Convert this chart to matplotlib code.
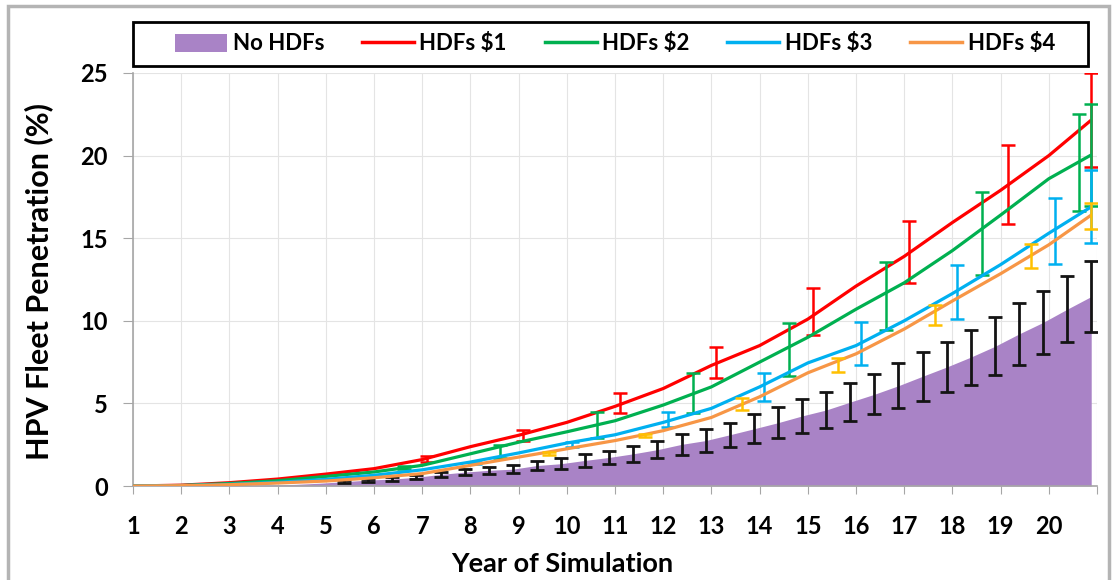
import matplotlib

matplotlib.use("Agg")
import matplotlib.pyplot as plt  # noqa: E402
from matplotlib.lines import Line2D  # noqa: E402
from matplotlib.patches import Patch, Rectangle  # noqa: E402

plt.rcParams["font.family"] = ["Lato", "DejaVu Sans"]
plt.rcParams["font.weight"] = "bold"

# --- data ------------------------------------------------------------------
years = [1, 2, 3, 4, 5, 6, 7, 8, 9, 10, 11, 12, 13, 14, 15, 16, 17, 18, 19, 20, 20.88]
hdf1 = [0, 0.05, 0.2, 0.42, 0.72, 1.05, 1.6, 2.38, 3.07, 3.85, 4.82, 5.9, 7.3, 8.5,
        10.1, 12.1, 13.9, 15.95, 17.9, 20.0, 22.15]
hdf2 = [0, 0.03, 0.15, 0.32, 0.58, 0.85, 1.25, 1.95, 2.65, 3.28, 3.95, 4.9, 6.0, 7.5,
        9.0, 10.7, 12.3, 14.25, 16.4, 18.6, 20.04]
hdf3 = [0, 0.02, 0.1, 0.22, 0.4, 0.65, 0.98, 1.45, 2.0, 2.6, 3.1, 3.85, 4.7, 6.0,
        7.45, 8.5, 10.0, 11.65, 13.4, 15.3, 16.9]
hdf4 = [0, 0.02, 0.08, 0.18, 0.3, 0.5, 0.75, 1.25, 1.75, 2.25, 2.75, 3.35, 4.15, 5.4,
        6.85, 8.0, 9.5, 11.2, 12.85, 14.6, 16.4]

# No HDFs: mean (purple area) and +/- spread (black bars)
base_x = [1.0, 2.88, 3.88, 4.38, 4.88, 5.38, 5.88, 6.38, 6.88, 7.38, 7.88, 8.38, 8.88,
          9.38, 9.88, 10.38, 10.88, 11.38, 11.88, 12.38, 12.88, 13.38, 13.88, 14.38,
          14.88, 15.38, 15.88, 16.38, 16.88, 17.38, 17.88, 18.38, 18.88, 19.38,
          19.88, 20.38, 20.88]
base_mean = [0, 0.02, 0.06, 0.1, 0.17, 0.26, 0.36, 0.42, 0.53, 0.70, 0.84, 0.95, 1.02,
             1.24, 1.35, 1.55, 1.73, 1.95, 2.20, 2.52, 2.75, 3.10, 3.46, 3.83, 4.24,
             4.60, 5.08, 5.55, 6.07, 6.64, 7.20, 7.80, 8.45, 9.20, 9.90, 10.70, 11.47]
base_err = [0, 0, 0, 0, 0, 0.08, 0.09, 0.1, 0.12, 0.14, 0.17, 0.22, 0.25, 0.27, 0.33,
            0.38, 0.40, 0.48, 0.52, 0.64, 0.68, 0.72, 0.88, 0.93, 1.01, 1.11, 1.13,
            1.22, 1.36, 1.47, 1.52, 1.66, 1.75, 1.87, 1.92, 2.0, 2.15]

# error bars of the HDF runs: position, low, high
hdf1_bx = [7.1, 9.1, 11.1, 13.1, 15.1, 17.1, 19.15, 20.88]
hdf1_lo = [1.45, 2.74, 4.40, 6.56, 9.14, 12.3, 15.84, 19.3]
hdf1_hi = [1.8, 3.39, 5.61, 8.39, 11.97, 16.04, 20.64, 25.0]
hdf2_bx = [6.62, 8.62, 10.62, 12.62, 14.62, 16.62, 18.62, 20.62, 20.88]
hdf2_lo = [1.0, 1.68, 2.89, 4.40, 6.68, 9.44, 12.77, 16.67, 16.96]
hdf2_hi = [1.2, 2.48, 4.5, 6.82, 9.85, 13.54, 17.82, 22.52, 23.12]
hdf3_bx = [8.1, 10.1, 12.1, 14.1, 16.1, 18.1, 20.13, 20.88]
hdf3_lo = [1.34, 2.38, 3.59, 5.16, 7.32, 10.09, 13.44, 14.73]
hdf3_hi = [1.48, 2.68, 4.5, 6.86, 9.95, 13.38, 17.45, 19.13]
hdf4_bx = [9.63, 11.63, 13.63, 15.63, 17.63, 19.63, 20.88]
hdf4_lo = [1.9, 2.95, 4.6, 6.92, 9.75, 13.21, 15.54]
hdf4_hi = [2.05, 3.12, 5.31, 7.73, 10.96, 14.63, 17.15]

tick_labels = [str(i) for i in range(1, 21)] + [""]

PURPLE = "#a983c6"
RED, GREEN, BLUE, ORANGE = "#ff0000", "#00b050", "#00b0f0", "#f79646"
GOLD = "#ffc000"

W, H = 1118, 580
fig = plt.figure(figsize=(W / 100, H / 100), dpi=100)
ax = fig.add_axes([133 / W, 94 / H, (1097 - 133) / W, (486 - 73) / H])

ax.fill_between(base_x, 0, base_mean, color=PURPLE, lw=0, zorder=1)
n0 = 5  # black bars start where the spread becomes visible
ax.errorbar(base_x[n0:], base_mean[n0:], yerr=base_err[n0:], fmt="none",
            ecolor="#141414", elinewidth=2, capsize=5, capthick=2, zorder=2)

series = [
    (hdf1, RED, RED, hdf1_bx, hdf1_lo, hdf1_hi),
    (hdf2, GREEN, GREEN, hdf2_bx, hdf2_lo, hdf2_hi),
    (hdf3, BLUE, BLUE, hdf3_bx, hdf3_lo, hdf3_hi),
    (hdf4, ORANGE, GOLD, hdf4_bx, hdf4_lo, hdf4_hi),
]
for i, (vals, col, ecol, bx, lo, hi) in enumerate(series):
    z = 3 + 2 * i
    ax.plot(years, vals, color=col, lw=2.3, zorder=z, solid_capstyle="butt")
    mid = [(a + b) / 2 for a, b in zip(lo, hi)]
    err = [[m - a for m, a in zip(mid, lo)], [b - m for m, b in zip(mid, hi)]]
    ax.errorbar(bx, mid, yerr=err, fmt="none", ecolor=ecol, elinewidth=1.8,
                capsize=5, capthick=1.8, zorder=z + 1)

ax.set_xlim(1, 21)
ax.set_ylim(0, 25)
ax.set_xticks(range(1, 22))
ax.set_xticklabels(tick_labels)
ax.set_yticks(range(0, 26, 5))
ax.grid(True, color="#e4e4e4", lw=0.8, zorder=0)
ax.set_axisbelow(True)
for s in ("top", "right"):
    ax.spines[s].set_visible(False)
for s in ("left", "bottom"):
    ax.spines[s].set_color("#a6a6a6")
    ax.spines[s].set_linewidth(1.2)
ax.tick_params(axis="x", length=6, color="#a6a6a6", pad=15, labelsize=17)
ax.tick_params(axis="y", length=7, color="#a6a6a6", pad=11, labelsize=17)

ax.set_xlabel("Year of Simulation", fontsize=19.5, fontweight="bold", va="center")
ax.xaxis.set_label_coords((562 - 133) / (1097 - 133), (486 - 564) / 413)
ax.set_ylabel("HPV Fleet Penetration (%)", fontsize=22, fontweight="bold",
              va="center")
ax.yaxis.set_label_coords((39 - 133) / (1097 - 133), (486 - 281) / 413)

handles = [
    Patch(facecolor=PURPLE, edgecolor="none", label="No HDFs"),
    Line2D([], [], color=RED, lw=2.5, label="HDFs $1"),
    Line2D([], [], color=GREEN, lw=2.5, label="HDFs $2"),
    Line2D([], [], color=BLUE, lw=2.5, label="HDFs $3"),
    Line2D([], [], color=ORANGE, lw=2.5, label="HDFs $4"),
]
fig.legend(handles=handles, loc="center", bbox_to_anchor=(615 / W, 1 - 44 / H),
           ncol=5, frameon=False, fontsize=16, handlelength=2.34, handleheight=0.9,
           handletextpad=0.25, columnspacing=1.7)
fig.patches.append(Rectangle((133 / W, 1 - 66 / H), (1088 - 133) / W, 44 / H,
                             transform=fig.transFigure, fill=False, ec="black", lw=2))
# grey frame round the whole picture
fig.patches.append(Rectangle((8 / W, -0.05), (1109 - 8) / W, 1.05 - 6 / H,
                             transform=fig.transFigure, fill=False, ec="#b4b4b4", lw=2.5))

fig.savefig("out.png", dpi=100)
